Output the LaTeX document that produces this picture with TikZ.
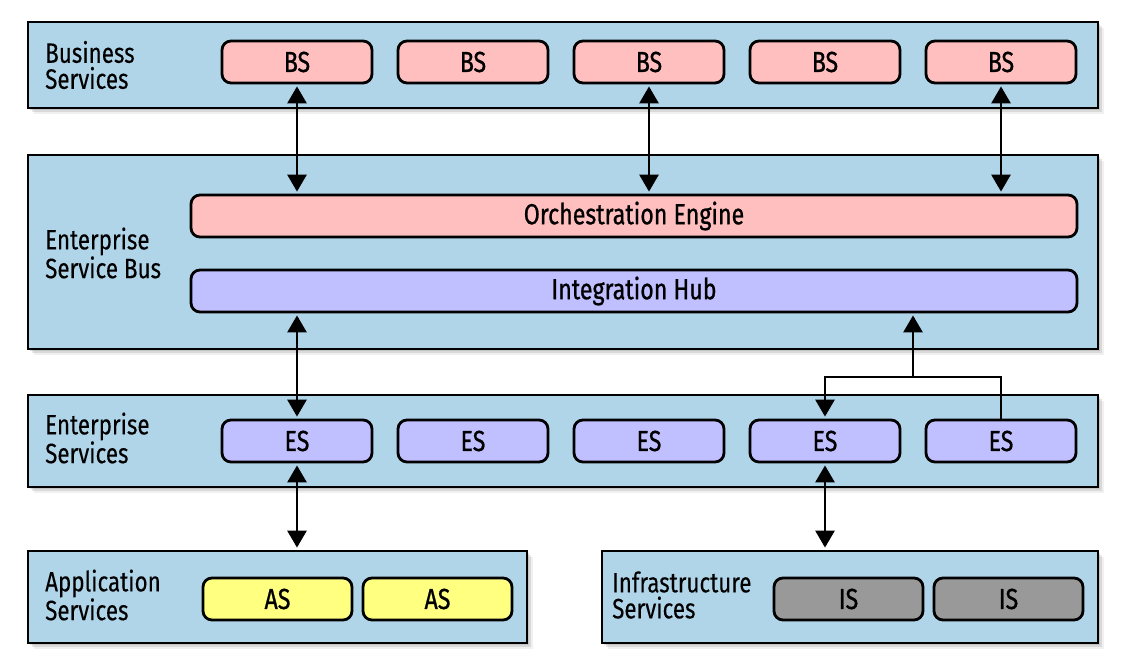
\documentclass[tikz,border=0pt]{standalone}
\usepackage{fontspec}
\setmainfont{Fira Sans}[FakeStretch=0.8,FakeBold=0.2]
\newfontfamily\boxfont{Fira Sans}[FakeStretch=0.8,FakeBold=0.8]
\usetikzlibrary{shadows,arrows.meta}
\definecolor{layerblue}{RGB}{176,212,232}
\definecolor{bspink}{RGB}{255,191,191}
\definecolor{eslav}{RGB}{192,191,255}
\definecolor{asyellow}{RGB}{255,255,128}
\definecolor{isgray}{RGB}{153,153,153}
\tikzset{
  layer/.style={draw=black, line width=2.8pt, fill=layerblue, rectangle,
    drop shadow={opacity=0.12, shadow xshift=6pt, shadow yshift=-6pt},
    drop shadow={opacity=0.2, shadow xshift=4pt, shadow yshift=-4pt},
    drop shadow={opacity=0.25, shadow xshift=2pt, shadow yshift=-2pt}},
  svc/.style={draw=black, line width=2.8pt, rounded corners=9pt, rectangle,
    minimum width=150pt, minimum height=42pt, inner sep=0pt,
    font=\boxfont\fontsize{29}{29}\selectfont},
  bar/.style={svc, minimum width=886pt},
  lbl/.style={anchor=west, align=left, inner sep=0pt,
    font=\fontsize{28}{26}\selectfont},
  arr/.style={line width=2.8pt, {Triangle[width=19pt,length=17pt]}-{Triangle[width=19pt,length=17pt]}, shorten <=2pt, shorten >=2pt},
  uarr/.style={line width=2.8pt, -{Triangle[width=19pt,length=17pt]}, shorten >=2pt},
}
\begin{document}
\begin{tikzpicture}[x=1pt,y=-1pt]
\useasboundingbox (0,0) rectangle (1144,670);
% layers
\node[layer, minimum width=1070pt, minimum height=86pt] (bsl) at (563,65) {};
\node[layer, minimum width=1070pt, minimum height=194pt] (esb) at (563,252) {};
\node[layer, minimum width=1070pt, minimum height=92pt] (esl) at (563,441) {};
\node[layer, minimum width=499pt, minimum height=92pt] (asl) at (277.5,597) {};
\node[layer, minimum width=496pt, minimum height=92pt] (isl) at (850,597) {};
% labels
\node[lbl] (tbs) at (45,65) {Business\\Services};
\node[lbl] (tesb) at (45,253) {Enterprise\\Service Bus};
\node[lbl] (tes) at (45,438) {Enterprise\\Services};
\node[lbl] (tas) at (45,595) {Application\\Services};
\node[lbl] (tis) at (612,595) {Infrastructure\\Services};
% services
\foreach \i/\x in {1/297,2/473,3/649,4/825,5/1001}{
  \node[svc, fill=bspink] (bs\i) at (\x,62) {BS};
  \node[svc, fill=eslav] (es\i) at (\x,441) {ES};
}
\node[bar, fill=bspink] (orch) at (634,216) {Orchestration Engine};
\node[bar, fill=eslav] (hub) at (634,291) {Integration Hub};
\node[svc, fill=asyellow, minimum width=149pt] (as1) at (277.5,599) {AS};
\node[svc, fill=asyellow, minimum width=149pt] (as2) at (437.5,599) {AS};
\node[svc, fill=isgray, minimum width=149pt] (is1) at (848.5,599) {IS};
\node[svc, fill=isgray, minimum width=149pt] (is2) at (1008.5,599) {IS};
% connectors
\draw[arr] (bs1.south) -- (bs1.south |- orch.north);
\draw[arr] (bs3.south) -- (bs3.south |- orch.north);
\draw[arr] (bs5.south) -- (bs5.south |- orch.north);
\draw[arr] (es1.north |- hub.south) -- (es1.north);
\draw[arr] (es1.south) -- (es1.south |- asl.north);
\draw[arr] (es4.south) -- (es4.south |- isl.north);
\coordinate (jn) at (913,377);
\draw[uarr] (jn) -- (jn |- hub.south);
\draw[uarr] (es5.north) -- (es5.north |- jn) -| (es4.north);
\end{tikzpicture}
\end{document}
